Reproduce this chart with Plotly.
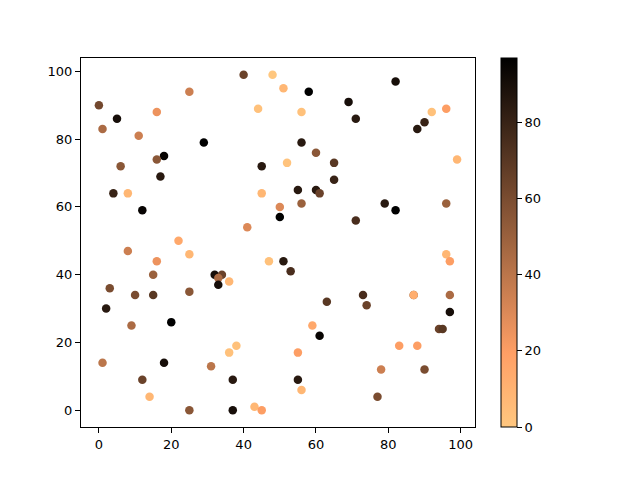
import plotly.graph_objects as go

x_vals = [0, 1, 5, 6, 4, 8, 12, 11, 16, 25, 18, 16, 17, 29, 40, 48, 51, 44, 58, 56,
          69, 71, 82, 88, 90, 92, 96, 99, 45, 52, 56, 60, 65, 65, 55, 60, 61, 56, 45, 50,
          50, 41, 71, 79, 82, 96, 22, 25, 8, 16, 15, 32, 34, 33, 33, 36, 47, 51, 53, 3,
          10, 15, 25, 2, 9, 20, 18, 1, 12, 14, 31, 36, 38, 37, 25, 37, 43, 45, 55, 55,
          56, 59, 61, 63, 73, 74, 78, 77, 83, 88, 87, 87, 90, 94, 95, 97, 97, 96, 97]
y_vals = [90, 83, 86, 72, 64, 64, 59, 81, 88, 94, 75, 74, 69, 79, 99, 99, 95, 89, 94, 88,
          91, 86, 97, 83, 85, 88, 89, 74, 72, 73, 79, 76, 73, 68, 65, 65, 64, 61, 64, 57,
          60, 54, 56, 61, 59, 61, 50, 46, 47, 44, 40, 40, 40, 39, 37, 38, 44, 44, 41, 36,
          34, 34, 35, 30, 25, 26, 14, 14, 9, 4, 13, 17, 19, 9, 0, 0, 1, 0, 17, 9,
          6, 25, 22, 32, 34, 31, 12, 4, 19, 19, 34, 34, 12, 24, 24, 29, 34, 46, 44]
c_vals = [62, 45, 90, 55, 80, 8, 95, 35, 25, 35, 95, 55, 85, 97, 65, 0, 8, 3, 97, 3,
          90, 85, 90, 85, 80, 3, 20, 8, 85, 2, 85, 55, 70, 80, 85, 85, 65, 50, 8, 97,
          30, 30, 75, 85, 97, 50, 15, 8, 35, 25, 50, 90, 65, 45, 90, 8, 3, 85, 75, 60,
          60, 70, 55, 85, 45, 97, 90, 40, 65, 8, 40, 3, 3, 85, 55, 90, 8, 20, 20, 85,
          8, 15, 95, 70, 75, 65, 35, 60, 20, 20, 60, 12, 60, 65, 70, 90, 45, 8, 20]


def copper_r(n=21):
    scale = []
    for i in range(n):
        v = i / (n - 1)
        t = 1 - v
        r = min(1.0, 1.25 * t)
        g = 0.7812 * t
        b = 0.4975 * t
        scale.append([v, 'rgb(%d,%d,%d)' % (round(r * 255), round(g * 255), round(b * 255))])
    return scale


fig = go.Figure()
fig.add_trace(go.Scatter(x=x_vals,
                         y=y_vals,
                         mode='markers',
                         marker={
                             'size': 8.5,
                             'color': c_vals,
                             'colorscale': copper_r(),
                             'cmin': 0,
                             'cmax': max(c_vals),
                             'line': {'width': 0},
                             'colorbar': {
                                 'x': 1.066,
                                 'xanchor': 'left',
                                 'y': 0.5,
                                 'yanchor': 'middle',
                                 'len': 1,
                                 'lenmode': 'fraction',
                                 'ypad': 0,
                                 'xpad': 0,
                                 'thickness': 16,
                                 'outlinecolor': 'black',
                                 'outlinewidth': 1,
                                 'ticks': 'outside',
                                 'ticklen': 5,
                                 'tickcolor': 'black',
                                 'dtick': 20,
                                 'tick0': 0,
                                 'tickfont': {'size': 13, 'color': 'black'},
                             },
                         },
                         showlegend=False))

axis_style = dict(showgrid=False, zeroline=False, showline=True, linecolor='black',
                  linewidth=1, mirror=True, ticks='outside', ticklen=5, tickcolor='black',
                  tickfont={'size': 13, 'color': 'black'}, dtick=20, tick0=0,
                  automargin=False)
fig.update_xaxes(range=[-4.95, 103.95], **axis_style)
fig.update_yaxes(range=[-4.95, 103.95], **axis_style)
fig.update_layout(width=624, height=464,
                  margin={'l': 73, 'r': 157, 't': 50, 'b': 45},
                  paper_bgcolor='white',
                  plot_bgcolor='white',
                  font={'family': 'DejaVu Sans', 'color': 'black'})

fig.write_html("out.html")
